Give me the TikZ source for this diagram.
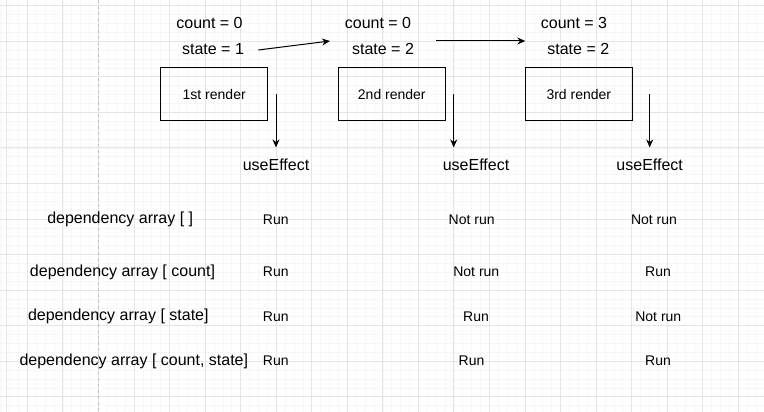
\documentclass[tikz,border=0pt]{standalone}
\usepackage{fontspec}
\setmainfont{Liberation Sans}
\usetikzlibrary{arrows.meta}

\begin{document}
\begin{tikzpicture}[x=1pt,y=-1pt]

\tikzstyle{big} = [font=\fontsize{16}{19}\selectfont, inner sep=1pt]
\tikzstyle{small} = [font=\fontsize{14}{17}\selectfont, inner sep=1pt]
\tikzstyle{render} = [rectangle, draw=black, line width=1pt, minimum width=107pt, minimum height=53pt, font=\fontsize{14}{17}\selectfont]
\tikzstyle{effect} = [font=\fontsize{16}{19}\selectfont, inner xsep=1pt, inner ysep=11.5pt]
\tikzstyle{arrow} = [line width=1pt,-{Stealth[length=8pt,width=7pt]}]
\tikzstyle{minor} = [line width=0.6pt, draw=black!3]
\tikzstyle{major} = [line width=0.9pt, draw=black!10]

% background grid
\useasboundingbox (0,0) rectangle (764,412);
\fill[white] (0,0) rectangle (764,412);
\foreach \k in {-3,...,83} \draw[minor] ({27.3+8.8875*\k},0) -- ({27.3+8.8875*\k},412);
\foreach \k in {0,...,46} \draw[minor] (0,{5.7+8.8875*\k}) -- (764,{5.7+8.8875*\k});
\foreach \k in {0,...,20} \draw[major] ({27.3+35.55*\k},0) -- ({27.3+35.55*\k},412);
\foreach \k in {0,...,11} \draw[major] (0,{5.7+35.55*\k}) -- (764,{5.7+35.55*\k});
\draw[line width=0.9pt, black!10] (6,0) -- (6,412);
\draw[line width=0.8pt, black!25, dashed] (98.3,0) -- (98.3,412);

% renders
\node (c1) [big] at (209.5,23) {count = 0};
\node (s1) [big] at (213,49) {state = 1};
\node (r1) [render] at (214.2,94.3) {1st render};
\node (u1) [effect] at (276,165) {useEffect};

\node (c2) [big] at (378,23) {count = 0};
\node (s2) [big] at (383,49) {state = 2};
\node (r2) [render] at (391.8,94.3) {2nd render};
\node (u2) [effect] at (476,165) {useEffect};

\node (c3) [big] at (574,23) {count = 3};
\node (s3) [big] at (578.3,49) {state = 2};
\node (r3) [render] at (578.8,94.3) {3rd render};
\node (u3) [effect] at (649.7,165) {useEffect};

\coordinate (a1) at (258.3,50);
\coordinate (b1) at (330,41);
\coordinate (a2) at (436.3,41);
\coordinate (b2) at (525.3,41);
\coordinate (d1) at (276,94.3);
\coordinate (d2) at (453.7,94.3);
\coordinate (d3) at (649.7,94.3);

\draw [arrow] (a1) -- (b1);
\draw [arrow] (a2) -- (b2);
\draw [arrow] (d1) -- (d1 |- u1.north);
\draw [arrow] (d2) -- (d2 |- u2.north);
\draw [arrow] (d3) -- (d3 |- u3.north);

% dependency rows
\node (dep1) [big] at (120.2,219.3) {dependency array [ ]};
\node (x11) [small] at (275.8,219.3) {Run};
\node (x12) [small] at (471.7,219.3) {Not run};
\node (x13) [small] at (654,219.3) {Not run};

\node (dep2) [big] at (122.5,272) {dependency array [ count]};
\node (x21) [small] at (275.8,272) {Run};
\node (x22) [small] at (476.3,272) {Not run};
\node (x23) [small] at (658,272) {Run};

\node (dep3) [big] at (118.3,316.7) {dependency array [ state]};
\node (x31) [small] at (275.8,316.7) {Run};
\node (x32) [small] at (476,316.7) {Run};
\node (x33) [small] at (658.3,316.7) {Not run};

\node (dep4) [big] at (133.8,361) {dependency array [ count, state]};
\node (x41) [small] at (275.8,361) {Run};
\node (x42) [small] at (471.5,361) {Run};
\node (x43) [small] at (658,361) {Run};

\end{tikzpicture}
\end{document}
